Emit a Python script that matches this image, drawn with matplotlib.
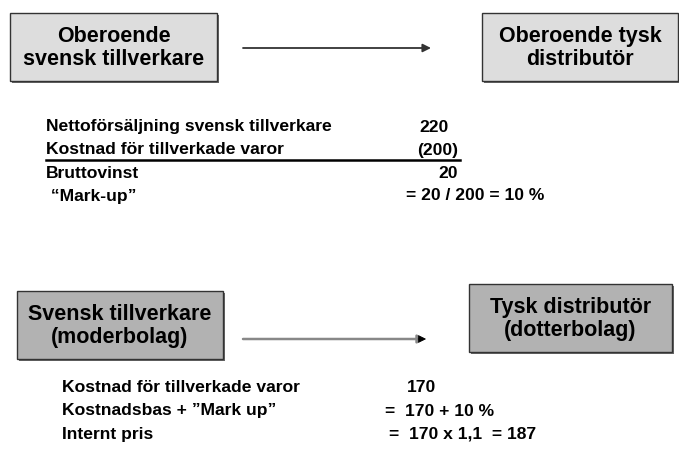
import matplotlib.pyplot as plt
from matplotlib.patches import Rectangle

plt.rcParams['font.family'] = ['Liberation Sans', 'DejaVu Sans']

# boxes: label, fill
box_labels = ["Oberoende\nsvensk tillverkare", "Oberoende tysk\ndistributör",
              "Svensk tillverkare\n(moderbolag)", "Tysk distributör\n(dotterbolag)"]
box_fill = ["#dddddd", "#dddddd", "#b2b2b2", "#b2b2b2"]

# upper table
top_rows = ["Nettoförsäljning svensk tillverkare", "Kostnad för tillverkade varor",
            "Bruttovinst", " \u201cMark-up\u201d"]
top_vals = ["220", "(200)", "20", "= 20 / 200 = 10 %"]

# lower table
bot_rows = ["Kostnad för tillverkade varor", "Kostnadsbas + \u201dMark up\u201d", "Internt pris"]
bot_vals = ["170", "=  170 + 10 %", "=  170 x 1,1  = 187"]

fig = plt.figure(figsize=(6.79, 4.55), dpi=100)
ax = fig.add_axes([0, 0, 1, 1])
ax.set_xlim(0, 679)
ax.set_ylim(455, 0)
ax.axis('off')

# box geometry (x, y, w, h) in pixels
box_pos = [(10, 13, 207, 68), (482, 13, 196, 68), (17, 291, 206, 68), (469, 284, 203, 68)]
for (x, y, w, h), lab, fc in zip(box_pos, box_labels, box_fill):
    ax.add_patch(Rectangle((x + 1.5, y + 1.5), w, h, fc='#666666', ec='none'))
    ax.add_patch(Rectangle((x, y), w, h, fc=fc, ec='#333333', lw=1))
    ax.text(x + w / 2, y + h / 2 + 1, lab, ha='center', va='center', fontsize=15.5,
            fontweight='bold', linespacing=1.15)

# arrows
ax.annotate('', xy=(431, 48), xytext=(243, 48),
            arrowprops=dict(arrowstyle='-|>', color='#333333', lw=1.3,
                            mutation_scale=12, shrinkA=0, shrinkB=0))
ax.annotate('', xy=(426, 339), xytext=(243, 339),
            arrowprops=dict(arrowstyle='-|>', color='#888888', lw=1.8,
                            mutation_scale=12, shrinkA=0, shrinkB=0))
ax.annotate('', xy=(426, 339), xytext=(418, 339),
            arrowprops=dict(arrowstyle='-|>', color='black', lw=0.5,
                            mutation_scale=12, shrinkA=0, shrinkB=0))

# upper table text
top_y = [127, 150, 173, 196]
top_x = [419, 417, 438, 406]
for lab, val, y, xv in zip(top_rows, top_vals, top_y, top_x):
    ax.text(46, y, lab, ha='left', va='center', fontsize=12.6, fontweight='bold')
    ax.text(xv, y, val, ha='left', va='center', fontsize=12.6, fontweight='bold')
ax.plot([46, 460], [159.5, 159.5], color='black', lw=1.8)

# lower table text
bot_y = [388, 411, 434]
bot_x = [407, 385, 389]
for lab, val, y, xv in zip(bot_rows, bot_vals, bot_y, bot_x):
    ax.text(62, y, lab, ha='left', va='center', fontsize=12.6, fontweight='bold')
    ax.text(xv, y, val, ha='left', va='center', fontsize=12.6, fontweight='bold')

fig.savefig('out.png', dpi=100)
